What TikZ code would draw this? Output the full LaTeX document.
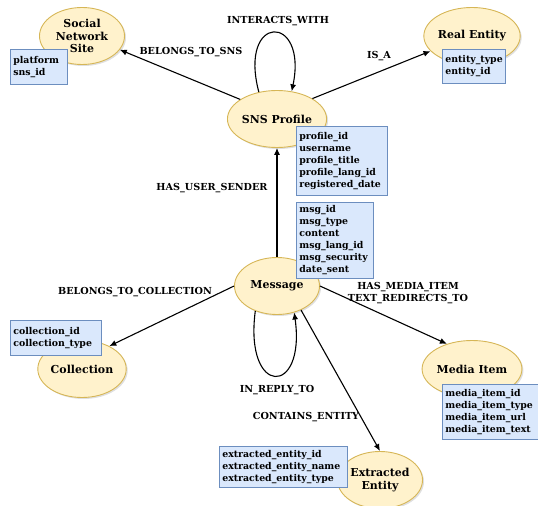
\documentclass[tikz,border=0pt]{standalone}
\usepackage{fontspec}
\setmainfont{DejaVu Serif}
\usetikzlibrary{shapes.geometric,arrows.meta,shadows}
\definecolor{entfill}{HTML}{FFF2CC}
\definecolor{entdraw}{HTML}{D6B656}
\definecolor{attfill}{HTML}{DAE8FC}
\definecolor{attdraw}{HTML}{6C8EBF}
\tikzset{
  entity/.style={ellipse, draw=entdraw, fill=entfill, line width=0.9bp,
    minimum width=85bp, minimum height=57bp, inner sep=0pt, align=center,
    font=\fontsize{11}{12.5}\selectfont\bfseries,
    drop shadow={opacity=0.25, shadow xshift=1.5bp, shadow yshift=-1.5bp}},
  attrbox/.style={rectangle, draw=attdraw, fill=attfill, line width=0.7bp,
    anchor=north west, inner xsep=3bp, inner ysep=2bp, align=left,
    font=\fontsize{9.4}{12}\selectfont\bfseries},
  rel/.style={draw=black, line width=1.1bp, -{Latex[length=7bp,width=6bp]}},
  rellabel/.style={font=\fontsize{9.7}{12}\selectfont\bfseries, inner sep=0pt, align=center}
}
\begin{document}
\begin{tikzpicture}[x=1bp,y=-1bp]
\useasboundingbox (0,0) rectangle (538,506);

% entities
\node[entity] (sns) at (82,36) {Social\\Network\\Site};
\node[entity] (real) at (472,36) {Real Entity};
\node[entity] (prof) at (277,119) {SNS Profile};
\node[entity] (msg) at (277,286) {Message};
\node[entity] (coll) at (82,369) {Collection};
\node[entity] (media) at (472,369) {Media Item};
\node[entity] (extr) at (380,480) {Extracted\\Entity};

% attribute boxes
\node[attrbox, text width=51bp, minimum height=35bp] (snsattr) at (10,49) {platform\\sns\_id};
\node[attrbox, text width=57bp, minimum height=34bp] (realattr) at (442,49) {entity\_type\\entity\_id};
\node[attrbox, text width=85bp, minimum height=69bp] (profattr) at (296,126) {profile\_id\\username\\profile\_title\\profile\_lang\_id\\registered\_date};
\node[attrbox, text width=71bp, minimum height=76bp] (msgattr) at (296,202) {msg\_id\\msg\_type\\content\\msg\_lang\_id\\msg\_security\\date\_sent};
\node[attrbox, text width=85bp, minimum height=35bp] (collattr) at (10,320) {collection\_id\\collection\_type};
\node[attrbox, text width=90bp, minimum height=55bp] (mediaattr) at (442,384) {media\_item\_id\\media\_item\_type\\media\_item\_url\\media\_item\_text};
\node[attrbox, text width=122bp, minimum height=41bp] (extrattr) at (219,446) {extracted\_entity\_id\\extracted\_entity\_name\\extracted\_entity\_type};

% relations
\draw[rel] (prof.152) -- (sns.-20);
\draw[rel] (prof.124) .. controls (238,13) and (308,13) .. (prof.62);
\draw[rel] (prof.30) -- (real.200);
\draw[rel] (msg) -- (prof);
\draw[rel] (msg.180) -- (coll.40);
\draw[rel] (msg.0) -- (media.135);
\draw[rel] (msg.229) .. controls (244,397) and (306,397) .. (msg.303);
\draw[rel] (msg.-45) -- (extr.north);

% relation labels
\node[rellabel] (l1) at (191,52) {BELONGS\_TO\_SNS};
\node[rellabel] (l2) at (278,21) {INTERACTS\_WITH};
\node[rellabel] (l3) at (379,56) {IS\_A};
\node[rellabel] (l4) at (212,188) {HAS\_USER\_SENDER};
\node[rellabel] (l5) at (135,292) {BELONGS\_TO\_COLLECTION};
\node[rellabel] (l6) at (408,293) {HAS\_MEDIA\_ITEM\\TEXT\_REDIRECTS\_TO};
\node[rellabel] (l7) at (277,390) {IN\_REPLY\_TO};
\node[rellabel] (l8) at (306,417) {CONTAINS\_ENTITY};
\end{tikzpicture}
\end{document}
